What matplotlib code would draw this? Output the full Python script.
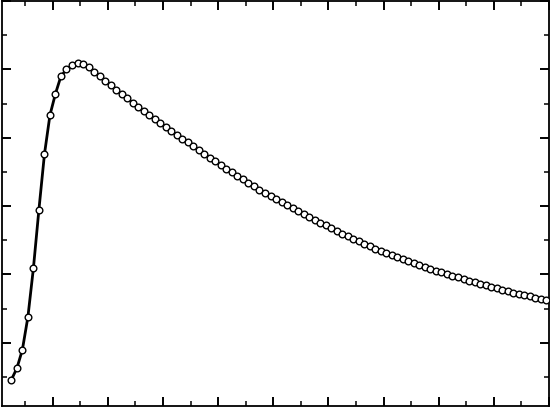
import numpy as np
import matplotlib
matplotlib.use("Agg")
from matplotlib import pyplot as plt
from matplotlib.ticker import MultipleLocator

# sampling grid (98 points, step 0.1)
x_values = np.round(np.arange(98) * 0.1 + 0.25, 2)

# readings taken off the reference curve
y_values = [
    0.459, 0.626, 0.898, 1.376, 2.091, 2.949, 3.757, 4.331, 4.644, 4.901,
    4.999, 5.062, 5.091, 5.082, 5.033, 4.966, 4.897, 4.834, 4.770, 4.703,
    4.638, 4.575, 4.513, 4.452, 4.391, 4.331, 4.273, 4.215, 4.157, 4.100,
    4.044, 3.988, 3.933, 3.876, 3.820, 3.764, 3.709, 3.655, 3.601, 3.547,
    3.494, 3.442, 3.390, 3.339, 3.290, 3.241, 3.195, 3.148, 3.101, 3.056,
    3.012, 2.968, 2.924, 2.882, 2.840, 2.799, 2.758, 2.717, 2.676, 2.637,
    2.597, 2.559, 2.521, 2.485, 2.448, 2.413, 2.378, 2.344, 2.313, 2.282,
    2.252, 2.222, 2.193, 2.165, 2.137, 2.109, 2.083, 2.057, 2.030, 2.005,
    1.981, 1.956, 1.932, 1.909, 1.886, 1.863, 1.840, 1.818, 1.796, 1.776,
    1.755, 1.735, 1.715, 1.696, 1.677, 1.658, 1.639, 1.621,
]

x_limits = (0.075, 10.0)
y_limits = (0.075, 6.0)


def plot(output):
    fig = plt.figure(figsize=(5.54, 4.08), dpi=100)
    ax = fig.add_axes([1.7 / 554, 2.0 / 408, 547.3 / 554, 405.0 / 408])
    # line first, open markers on top of it
    ax.plot(x_values, y_values, color="black", linewidth=2.0, zorder=2)
    ax.plot(
        x_values, y_values, linestyle="none", marker="o", markersize=4.8,
        markerfacecolor="white", markeredgecolor="black",
        markeredgewidth=1.0, zorder=3,
    )
    ax.set_xlim(*x_limits)
    ax.set_ylim(*y_limits)
    # ticks inside on every side, no labels
    ax.xaxis.set_major_locator(MultipleLocator(1))
    ax.xaxis.set_minor_locator(MultipleLocator(0.5))
    ax.yaxis.set_major_locator(MultipleLocator(1))
    ax.yaxis.set_minor_locator(MultipleLocator(0.5))
    ax.tick_params(which="both", direction="in", top=True, right=True,
                   labelbottom=False, labelleft=False)
    ax.tick_params(which="major", length=6.2, width=1.4)
    ax.tick_params(which="minor", length=3.4, width=1.1)
    for spine in ax.spines.values():
        spine.set_linewidth(1.3)
    fig.savefig(output, dpi=100)


if __name__ == "__main__":
    plot("out.png")
